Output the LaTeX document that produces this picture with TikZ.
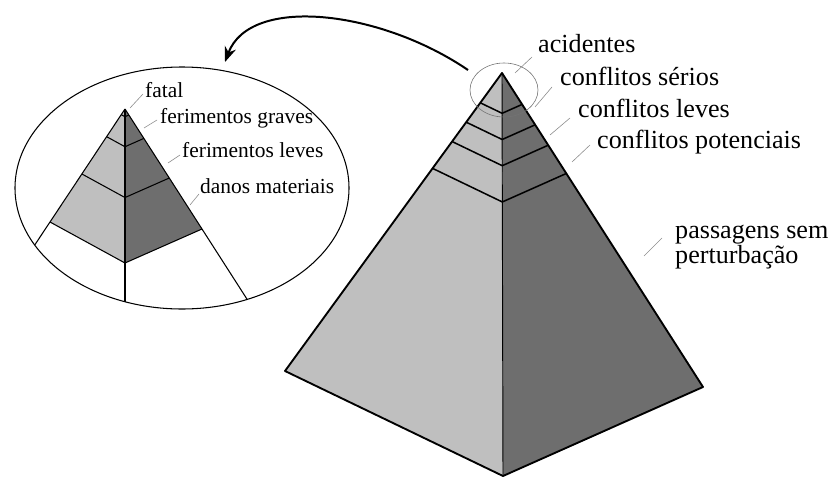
\documentclass[tikz,border=0pt]{standalone}
\usepackage{fontspec}
\setmainfont{Liberation Serif}
\usetikzlibrary{arrows.meta,positioning,calc}

\begin{document}
\begin{tikzpicture}[x=0.03cm,y=-0.03cm]
  \tikzset{
    faceL/.style={fill=black!25},
    faceR/.style={fill=black!57},
    edge/.style={draw=black,line width=1.6pt,line join=round},
    band/.style={draw=black,line width=1.3pt,line join=round},
    thinedge/.style={draw=black,line width=0.9pt,line join=round},
    leader/.style={draw=black!45,line width=0.5pt},
    biglabel/.style={anchor=base west,inner sep=0pt,font=\fontsize{22.3}{24}\selectfont},
    smalllabel/.style={anchor=base west,inner sep=0pt,font=\fontsize{18.3}{20}\selectfont},
  }
  \useasboundingbox (0,0) rectangle (832,477);

  % big pyramid
  \coordinate (apex) at (502,73);
  \coordinate (bigL) at (285,371);
  \coordinate (bigR) at (703,387);
  \coordinate (bigB) at (503,476);
  \path[faceL] (apex) -- (bigL) -- (bigB) -- cycle;
  \path[faceR] (apex) -- (bigB) -- (bigR) -- cycle;
  \foreach \t in {0.1,0.165,0.23,0.32}
    \draw[band] ($(apex)!\t!(bigL)$) -- ($(apex)!\t!(bigB)$) -- ($(apex)!\t!(bigR)$);
  \draw[black,line width=0.8pt] (apex) -- (bigB);
  \draw[edge] (apex) -- (bigL) -- (bigB) -- (bigR) -- cycle;
  \draw[black!55,line width=0.5pt] (504,90) ellipse (34 and 27);

  % magnified top
  \coordinate (sa) at (125,109);
  \coordinate (sl) at (50,222);
  \coordinate (sc) at (125,263);
  \coordinate (sr) at (202,229);
  \begin{scope}
    \clip (182,188) ellipse (167 and 121);
    \path[faceL] (sa) -- (sl) -- (sc) -- cycle;
    \path[faceR] (sa) -- (sc) -- (sr) -- cycle;
    \foreach \t in {0.05,0.245,0.575,1}
      \draw[thinedge] ($(sa)!\t!(sl)$) -- ($(sa)!\t!(sc)$) -- ($(sa)!\t!(sr)$);
    \draw[thinedge] (sa) -- ($(sa)!2!(sl)$);
    \draw[thinedge] (sa) -- ($(sa)!2!(sc)$);
    \draw[thinedge] (sa) -- ($(sa)!2!(sr)$);
  \end{scope}
  \draw[black,line width=0.9pt] (182,188) ellipse (167 and 121);

  % zoom arrow
  \coordinate (zoomfrom) at (468,70);
  \coordinate (zoomto) at (225,62);
  \draw[line width=1.7pt,-{Stealth[length=13pt,width=10pt]}]
    (zoomfrom) .. controls (380,10) and (250,-5) .. (zoomto);

  % labels, big pyramid
  \node[biglabel] (acid) at (538,53) {acidentes};
  \node[biglabel] (csev) at (560,85) {conflitos sérios};
  \node[biglabel] (clev) at (578,117) {conflitos leves};
  \node[biglabel] (cpot) at (597,148) {conflitos potenciais};
  \node[biglabel] (pass) at (675,238) {passagens sem};
  \node[biglabel] (pert) at (675,263) {perturbação};
  \coordinate (acidA) at (515,73);  \coordinate (acidB) at (532,57);
  \coordinate (csevA) at (535,107); \coordinate (csevB) at (552,87);
  \coordinate (clevA) at (550,135); \coordinate (clevB) at (570,118);
  \coordinate (cpotA) at (572,162); \coordinate (cpotB) at (590,145);
  \coordinate (passA) at (644,256); \coordinate (passB) at (662,238);
  \draw[leader] (acidA) -- (acidB);
  \draw[leader] (csevA) -- (csevB);
  \draw[leader] (clevA) -- (clevB);
  \draw[leader] (cpotA) -- (cpotB);
  \draw[leader] (passA) -- (passB);

  % labels, magnified top
  \node[smalllabel] (fatal) at (145,97) {fatal};
  \node[smalllabel] (fgrav) at (160,123) {ferimentos graves};
  \node[smalllabel] (flev) at (182,157) {ferimentos leves};
  \node[smalllabel] (danos) at (200,193) {danos materiais};
  \coordinate (fatalA) at (130,108); \coordinate (fatalB) at (143,94);
  \coordinate (fgravA) at (144,128); \coordinate (fgravB) at (157,120);
  \coordinate (flevA) at (168,163);  \coordinate (flevB) at (180,155);
  \coordinate (danosA) at (190,205); \coordinate (danosB) at (199,194);
  \draw[leader] (fatalA) -- (fatalB);
  \draw[leader] (fgravA) -- (fgravB);
  \draw[leader] (flevA) -- (flevB);
  \draw[leader] (danosA) -- (danosB);
\end{tikzpicture}
\end{document}
